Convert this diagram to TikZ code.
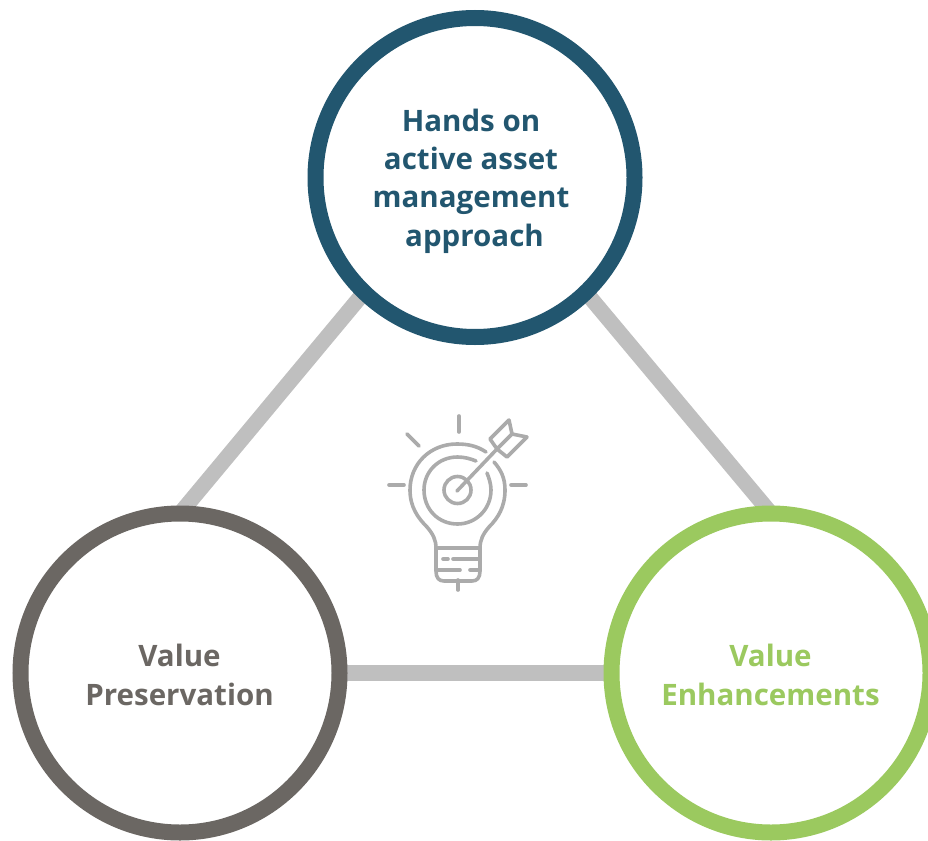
\documentclass[tikz,border=0pt]{standalone}
\usepackage{fontspec}
\setmainfont{Open Sans}
\usetikzlibrary{backgrounds}
\definecolor{navy}{HTML}{22566F}
\definecolor{stone}{HTML}{6B6763}
\definecolor{leaf}{HTML}{9BC95F}
\definecolor{linkgray}{HTML}{BFBFBF}
\definecolor{icongray}{HTML}{ABABAB}
\tikzset{
  ring/.style={circle,draw,line width=16pt,fill=white,minimum size=319pt,inner sep=0pt,outer sep=0pt},
  caption/.style={align=center,inner sep=0pt,font=\bfseries\fontsize{29.5pt}{38.3pt}\selectfont},
  link/.style={draw=linkgray,line width=15.5pt},
  icon/.style={draw=icongray,line width=3.6pt,line cap=round,line join=round}
}
\begin{document}
\begin{tikzpicture}[x=1pt,y=-1pt]
\path[use as bounding box] (0,0) rectangle (928,840);
\begin{scope}
\clip (0,0) rectangle (928,840);
\node[ring,draw=navy] (top) at (475,177.5) {};
\node[ring,draw=stone] (left) at (180,673) {};
\node[ring,draw=leaf] (right) at (771,673) {};
\node[caption,text=navy] (toptext) at (471,181) {Hands on\\active asset\\management\\\hspace*{7pt}approach};
\node[caption,text=stone] (lefttext) at (179.5,675) {Value\\Preservation};
\node[caption,text=leaf] (righttext) at (770.5,675) {Value\\Enhancements};
\begin{pgfonlayer}{background}
\draw[link] (top.-134) -- (left.90);
\draw[link] (top.-46) -- (right.90);
\draw[link] (left.0) -- (right.180);
\end{pgfonlayer}
% icon
\begin{scope}[icon]
\draw (459,416) -- (459,432);
\draw (407,434) -- (419,446);
\draw (389,485) -- (404,485);
\draw (511,485) -- (526,485);
\draw (458,580) -- (458,590);
% bulb outline
\draw (486,452) .. controls (477,446) and (468,444) .. (457,444)
 .. controls (430,444) and (410,464) .. (410,490)
 .. controls (410,507) and (418,518) .. (427,527)
 .. controls (433,534) and (436,540) .. (436,548)
 -- (436,571) .. controls (436,578) and (439,581) .. (444,581)
 -- (472,581) .. controls (477,581) and (480,578) .. (480,571)
 -- (480,548) .. controls (480,540) and (483,534) .. (489,527)
 .. controls (498,518) and (505,507) .. (505,490)
 .. controls (505,478) and (501,470) .. (494,462);
\draw (436,548) -- (480,548);
\draw (443,559) -- (448,559) (453,559) -- (480,559);
\draw (436,570) -- (460,570) (470,570) -- (480,570);
% target
\draw (476,461) .. controls (471,459) and (465,457) .. (457.5,457)
 .. controls (438,457) and (424,472) .. (424,490)
 .. controls (424,509) and (438,524) .. (457.5,524)
 .. controls (476,524) and (491,509) .. (491,490)
 .. controls (491,484) and (489,478) .. (487,473);
\draw (457.5,490) circle (13.5);
% arrow
\draw (457,491) -- (497,449);
\draw (497,449) -- (490,439) -- (509,420) -- (512,434) -- (497,449);
\draw (497,449) -- (507,457) -- (527,437) -- (512,434);
\end{scope}
\end{scope}
\end{tikzpicture}
\end{document}
